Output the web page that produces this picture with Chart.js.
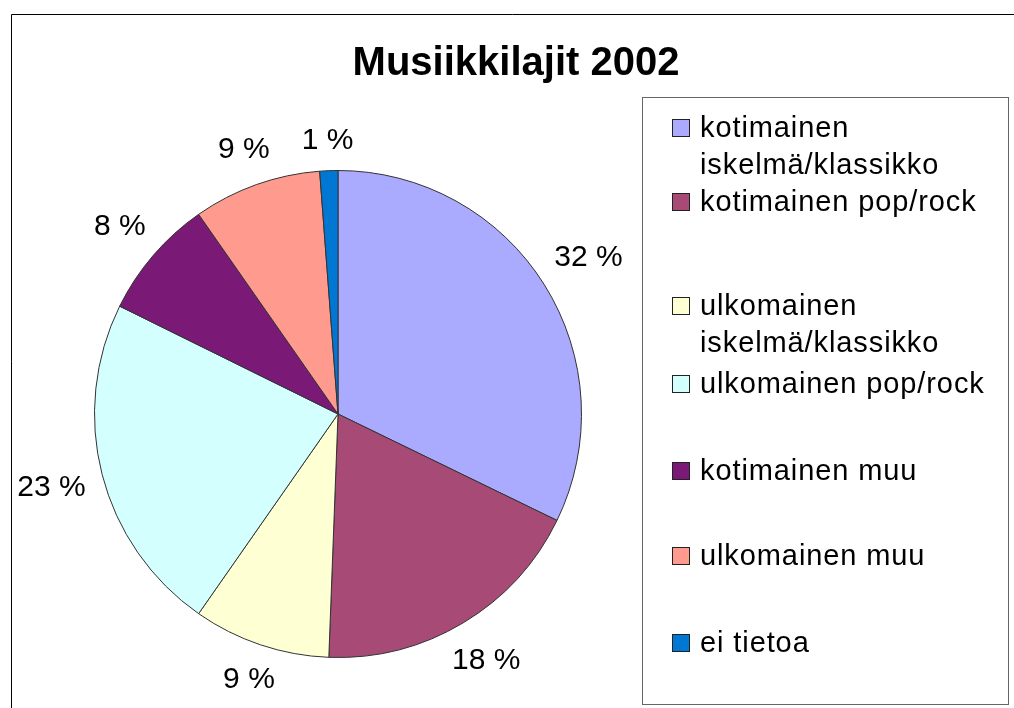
<!DOCTYPE html>
<html>
<head>
<meta charset="utf-8">
<script src="https://cdn.jsdelivr.net/npm/chart.js@4.4.0/dist/chart.umd.min.js"></script>
<style>
  body { margin: 0; background: #fff; }
  canvas { display: block; }
</style>
</head>
<body>
<canvas id="myChart" width="1014" height="708"></canvas>
<script>
// data
const chartTitle = "Musiikkilajit 2002";
const categories = [
  "kotimainen iskelmä/klassikko",
  "kotimainen pop/rock",
  "ulkomainen iskelmä/klassikko",
  "ulkomainen pop/rock",
  "kotimainen muu",
  "ulkomainen muu",
  "ei tietoa"
];
const shares = [32.2, 18.4, 9.1, 22.6, 8.0, 8.5, 1.2];
const sliceColors = ["#AAAAFF", "#A84A76", "#FFFFD4", "#D4FFFF", "#7A1A76", "#FF9A8F", "#0077D2"];

const FONT = '"Liberation Sans", Arial, sans-serif';

// frame + title
const framePlugin = {
  id: "frame",
  beforeDraw(chart) {
    const ctx = chart.ctx;
    ctx.save();
    ctx.fillStyle = "#fff";
    ctx.fillRect(0, 0, chart.width, chart.height);
    ctx.strokeStyle = "#000";
    ctx.lineWidth = 1;
    ctx.beginPath();
    ctx.moveTo(11.5, chart.height);
    ctx.lineTo(11.5, 14.5);
    ctx.lineTo(chart.width, 14.5);
    ctx.stroke();

    ctx.fillStyle = "#000";
    ctx.font = "bold 40px " + FONT;
    ctx.textAlign = "center";
    ctx.textBaseline = "alphabetic";
    ctx.fillText(chartTitle, 516, 75);
    ctx.restore();
  }
};

// percentage labels outside the slices
const labelPlugin = {
  id: "pieLabels",
  afterDatasetsDraw(chart) {
    const ctx = chart.ctx;
    const meta = chart.getDatasetMeta(0);
    ctx.save();
    ctx.font = "30px " + FONT;
    ctx.fillStyle = "#000";
    ctx.textAlign = "center";
    ctx.textBaseline = "middle";
    meta.data.forEach(function (arc, i) {
      const p = arc.getProps(["x", "y", "startAngle", "endAngle", "outerRadius"], true);
      const a = (p.startAngle + p.endAngle) / 2;
      const txt = Math.round(shares[i]) + " %";
      const w = ctx.measureText(txt).width;
      const h = 26;
      const ext = Math.abs(Math.cos(a)) * w / 2 + Math.abs(Math.sin(a)) * h / 2;
      const d = p.outerRadius + 16 + ext;
      ctx.fillText(txt, p.x + Math.cos(a) * d, p.y + Math.sin(a) * d);
    });
    ctx.restore();
  }
};

// boxed legend on the right
const legendPlugin = {
  id: "boxLegend",
  afterDraw(chart) {
    const ctx = chart.ctx;
    const tops = [119, 193, 297, 375, 462, 547, 634];
    ctx.save();
    ctx.strokeStyle = "#666";
    ctx.lineWidth = 1;
    ctx.strokeRect(642.5, 97.5, 366, 607);
    ctx.font = "29px " + FONT;
    ctx.letterSpacing = "0.9px";
    ctx.textBaseline = "alphabetic";
    ctx.textAlign = "left";
    categories.forEach(function (name, i) {
      const y = tops[i];
      ctx.fillStyle = sliceColors[i];
      ctx.fillRect(672.5, y + 0.5, 17, 17);
      ctx.strokeStyle = "#222";
      ctx.strokeRect(672.5, y + 0.5, 17, 17);
      // wrap long names
      let lines = [name];
      if (ctx.measureText(name).width > 300) {
        const k = name.indexOf(" ");
        lines = [name.slice(0, k), name.slice(k + 1)];
      }
      ctx.fillStyle = "#000";
      lines.forEach(function (ln, j) {
        ctx.fillText(ln, 700, y + 18 + j * 37);
      });
    });
    ctx.restore();
  }
};

const ctx = document.getElementById("myChart");
new Chart(ctx, {
  type: "pie",
  data: {
    labels: categories,
    datasets: [{
      data: shares,
      backgroundColor: sliceColors,
      borderColor: "#333",
      borderWidth: 1
    }]
  },
  options: {
    responsive: false,
    animation: false,
    devicePixelRatio: 1,
    layout: {
      padding: { left: 94, right: 432, top: 170, bottom: 50 }
    },
    plugins: {
      legend: { display: false },
      title: { display: false },
      tooltip: { enabled: false }
    }
  },
  plugins: [framePlugin, labelPlugin, legendPlugin]
});
</script>
</body>
</html>
